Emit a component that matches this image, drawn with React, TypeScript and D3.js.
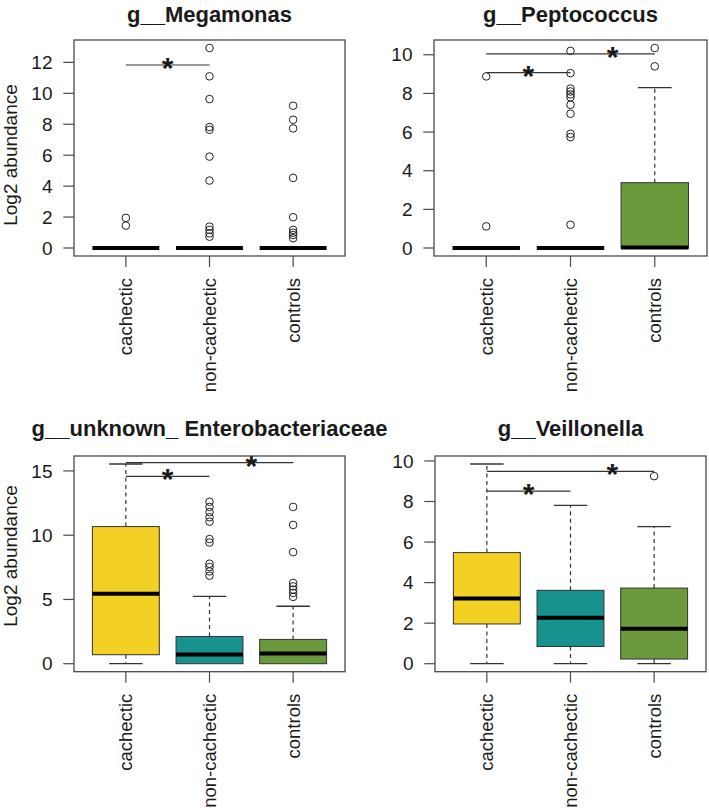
import React from "react";
import * as d3 from "d3";

const groups = ["cachectic", "non-cachectic", "controls"];
const groupFills = ["#F3D024", "#17928E", "#6B9A3C"];

// stats per group: [lower whisker, q1, median, q3, upper whisker]
const megTitle = "g__Megamonas";
const megStats = [
  [0, 0, 0, 0, 0],
  [0, 0, 0, 0, 0],
  [0, 0, 0, 0, 0],
];
const megOutliers = [
  [1.95, 1.45],
  [12.93, 11.1, 9.63, 7.82, 7.64, 5.91, 4.36, 1.38, 1.17, 0.95, 0.73],
  [9.2, 8.29, 7.73, 4.53, 1.99, 1.17, 0.99, 0.84, 0.63],
];
const megSig = [[1, 2, 11.83]];
const megTicks = [0, 2, 4, 6, 8, 10, 12];

const pepTitle = "g__Peptococcus";
const pepStats = [
  [0, 0, 0, 0, 0],
  [0, 0, 0, 0, 0],
  [0, 0, 0.03, 3.38, 8.3],
];
const pepOutliers = [
  [8.88, 1.12],
  [10.2, 9.05, 8.25, 8.1, 7.95, 7.8, 7.41, 6.95, 5.91, 5.74, 1.2],
  [10.35, 9.4],
];
const pepSig = [
  [1, 2, 9.08],
  [1, 3, 10.05],
];
const pepTicks = [0, 2, 4, 6, 8, 10];

const entTitle = "g__unknown_ Enterobacteriaceae";
const entStats = [
  [0, 0.7, 5.45, 10.67, 15.54],
  [0, 0, 0.72, 2.12, 5.24],
  [0, 0, 0.79, 1.89, 4.47],
];
const entOutliers = [
  [],
  [12.6, 12.2, 11.8, 11.4, 11.05, 9.7, 9.43, 7.78, 7.52, 7.18, 6.85],
  [12.2, 10.8, 8.68, 6.28, 6.02, 5.76, 5.51, 5.2],
];
const entSig = [
  [1, 2, 14.58],
  [1, 3, 15.64],
];
const entTicks = [0, 5, 10, 15];

const veiTitle = "g__Veillonella";
const veiStats = [
  [0, 1.96, 3.21, 5.48, 9.85],
  [0, 0.85, 2.27, 3.62, 7.81],
  [0, 0.23, 1.72, 3.73, 6.76],
];
const veiOutliers = [[], [], [9.25]];
const veiSig = [
  [1, 2, 8.51],
  [1, 3, 9.49],
];
const veiTicks = [0, 2, 4, 6, 8, 10];

const yLabel = "Log2 abundance";

const FONT = "'Liberation Sans', Arial, Helvetica, sans-serif";
const INK = "#1a1a1a";
const FRAME = "#4a4a4a";

type Layout = {
  left: number;
  right: number;
  top: number;
  bottom: number;
  titleY: number;
  labelY: number | null;
};

function Panel(props: {
  title: string;
  stats: number[][];
  outliers: number[][];
  sig: number[][];
  ticks: number[];
  L: Layout;
}) {
  const { title, stats, outliers, sig, ticks, L } = props;
  const all: number[] = [];
  stats.forEach((s) => all.push(...s));
  outliers.forEach((o) => all.push(...o));
  const lo = d3.min(all) as number;
  const hi = d3.max(all) as number;
  const pad = (hi - lo) * 0.04;
  const x = d3.scaleLinear().domain([0.38, 3.62]).range([L.left, L.right]);
  const y = d3.scaleLinear().domain([lo - pad, hi + pad]).range([L.bottom, L.top]);
  const half = x(1.4) - x(1);
  const capHalf = x(1.2) - x(1);

  return (
    <g>
      <text
        x={(L.left + L.right) / 2}
        y={L.titleY}
        textAnchor="middle"
        fontSize={22}
        fontWeight="bold"
        fontFamily={FONT}
        fill={INK}
      >
        {title}
      </text>
      {L.labelY !== null && (
        <text
          transform={`translate(16.5,${L.labelY}) rotate(-90)`}
          textAnchor="middle"
          fontSize={19}
          fontFamily={FONT}
          fill={INK}
        >
          {yLabel}
        </text>
      )}
      {ticks.map((t) => (
        <g key={"yt" + t}>
          <line x1={L.left - 10.7} x2={L.left} y1={y(t)} y2={y(t)} stroke={FRAME} strokeWidth={1.2} />
          <text
            x={L.left - 21.5}
            y={y(t)}
            dy="0.35em"
            textAnchor="end"
            fontSize={19}
            fontFamily={FONT}
            fill={INK}
          >
            {t}
          </text>
        </g>
      ))}
      {groups.map((g, i) => (
        <g key={"xt" + g}>
          <line x1={x(i + 1)} x2={x(i + 1)} y1={L.bottom} y2={L.bottom + 11} stroke={FRAME} strokeWidth={1.2} />
          <text
            transform={`translate(${x(i + 1)},${L.bottom + 22}) rotate(-90)`}
            dy="0.35em"
            textAnchor="end"
            fontSize={18.5}
            fontFamily={FONT}
            fill={INK}
          >
            {g}
          </text>
        </g>
      ))}
      {stats.map((s, i) => {
        const cx = x(i + 1);
        const [wl, q1, med, q3, wh] = s;
        return (
          <g key={"box" + i}>
            {wh > q3 && (
              <>
                <line x1={cx} x2={cx} y1={y(q3)} y2={y(wh)} stroke="#333" strokeWidth={1.2} strokeDasharray="4,3.5" />
                <line x1={cx - capHalf} x2={cx + capHalf} y1={y(wh)} y2={y(wh)} stroke="#333" strokeWidth={1.3} />
              </>
            )}
            {wl < q1 && (
              <>
                <line x1={cx} x2={cx} y1={y(q1)} y2={y(wl)} stroke="#333" strokeWidth={1.2} strokeDasharray="4,3.5" />
                <line x1={cx - capHalf} x2={cx + capHalf} y1={y(wl)} y2={y(wl)} stroke="#333" strokeWidth={1.3} />
              </>
            )}
            <rect
              x={cx - half}
              y={y(q3)}
              width={2 * half}
              height={y(q1) - y(q3)}
              fill={groupFills[i]}
              stroke="#333"
              strokeWidth={1}
            />
            <line x1={cx - half} x2={cx + half} y1={y(med)} y2={y(med)} stroke="#000" strokeWidth={4} />
          </g>
        );
      })}
      {outliers.map((o, i) =>
        o.map((v, j) => (
          <circle key={"o" + i + "_" + j} cx={x(i + 1)} cy={y(v)} r={3.8} fill="none" stroke="#222" strokeWidth={1} />
        ))
      )}
      {sig.map((s, k) => {
        const [a, b, v] = s;
        const starX = x((b - 1 + b) / 2);
        return (
          <g key={"sig" + k}>
            <line x1={x(a)} x2={x(b)} y1={y(v)} y2={y(v)} stroke="#333" strokeWidth={1.2} />
            <text
              x={starX}
              y={y(v) + 13}
              textAnchor="middle"
              fontSize={30}
              fontWeight="bold"
              fontFamily={FONT}
              fill={INK}
            >
              *
            </text>
          </g>
        );
      })}
      <rect
        x={L.left}
        y={L.top}
        width={L.right - L.left}
        height={L.bottom - L.top}
        fill="none"
        stroke={FRAME}
        strokeWidth={1.3}
      />
    </g>
  );
}

export default function App() {
  return (
    <svg
      width={709}
      height={810}
      style={{ position: "absolute", left: 0, top: 0, background: "#fff" }}
    >
      <rect x={0} y={0} width={709} height={810} fill="#fff" />
      <Panel
        title={megTitle}
        stats={megStats}
        outliers={megOutliers}
        sig={megSig}
        ticks={megTicks}
        L={{ left: 74, right: 345, top: 40, bottom: 256, titleY: 21.5, labelY: 155 }}
      />
      <Panel
        title={pepTitle}
        stats={pepStats}
        outliers={pepOutliers}
        sig={pepSig}
        ticks={pepTicks}
        L={{ left: 434, right: 707, top: 40, bottom: 256, titleY: 21.5, labelY: null }}
      />
      <Panel
        title={entTitle}
        stats={entStats}
        outliers={entOutliers}
        sig={entSig}
        ticks={entTicks}
        L={{ left: 74, right: 345, top: 456, bottom: 671.7, titleY: 435.5, labelY: 556 }}
      />
      <Panel
        title={veiTitle}
        stats={veiStats}
        outliers={veiOutliers}
        sig={veiSig}
        ticks={veiTicks}
        L={{ left: 435, right: 706, top: 456, bottom: 671.7, titleY: 435.5, labelY: null }}
      />
    </svg>
  );
}
